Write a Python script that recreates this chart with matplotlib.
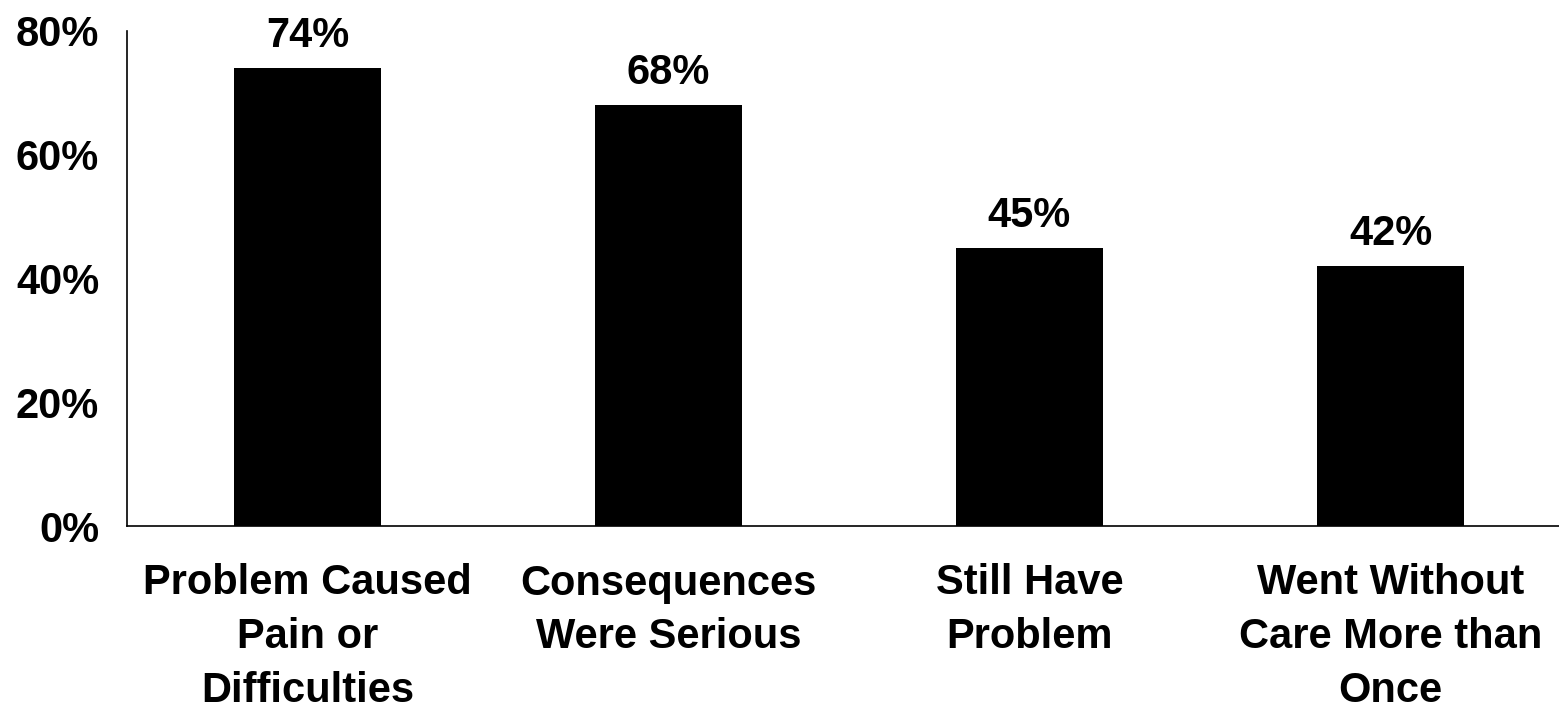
import matplotlib.pyplot as plt
from matplotlib.ticker import FuncFormatter

categories = ["Problem Caused\nPain or\nDifficulties", "Consequences\nWere Serious",
              "Still Have\nProblem", "Went Without\nCare More than\nOnce"]
values = [74, 68, 45, 42]
yticks = [0, 20, 40, 60, 80]

plt.rcParams['font.family'] = ['Liberation Sans', 'DejaVu Sans']
plt.rcParams['font.weight'] = 'bold'
FS = 30

fig = plt.figure(figsize=(15.59, 7.07), dpi=100)
# axes run a little past the right edge, like the original slide
ax = fig.add_axes([127 / 1559, 1 - 526 / 707, 1444 / 1559, (526 - 31) / 707])

x = range(len(categories))
bars = ax.bar(x, values, width=0.405, color='black')
for b, v in zip(bars, values):
    ax.text(b.get_x() + b.get_width() / 2, v + 3.4, f"{v}%", ha='center', va='baseline',
            fontsize=FS, fontweight='bold')

ax.set_xlim(-0.5, 3.5)
ax.set_ylim(0, 80)
ax.set_yticks(yticks)
ax.yaxis.set_major_formatter(FuncFormatter(lambda v, p: f"{v:.0f}%"))
ax.set_xticks(list(x))
ax.set_xticklabels(categories, fontsize=FS, fontweight='bold', linespacing=1.45)
for lab in ax.get_yticklabels():
    lab.set_fontsize(FS)
    lab.set_fontweight('bold')
ax.tick_params(axis='both', length=0)
ax.tick_params(axis='x', pad=27)
ax.tick_params(axis='y', pad=20)
ax.spines['top'].set_visible(False)
ax.spines['right'].set_visible(False)
ax.spines['left'].set_linewidth(1.2)
ax.spines['bottom'].set_linewidth(1.2)

fig.savefig("out.png", dpi=100)
